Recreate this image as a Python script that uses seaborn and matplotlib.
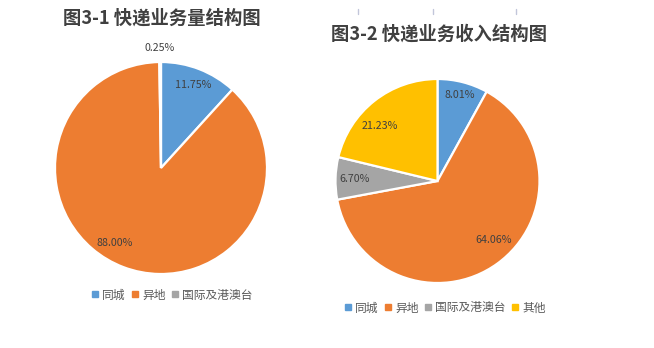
import numpy as np
import matplotlib
matplotlib.use("Agg")
import matplotlib.pyplot as plt
from matplotlib.lines import Line2D
import seaborn as sns

# 快递业务量结构（%）
volume_labels = ["同城", "异地", "国际及港澳台"]
volume_share = [11.75, 88.00, 0.25]

# 快递业务收入结构（%）
income_labels = ["同城", "异地", "国际及港澳台", "其他"]
income_share = [8.01, 64.06, 6.70, 21.23]

titles = ["图3-1 快递业务量结构图", "图3-2 快递业务收入结构图"]

sns.set_theme(style="white")
palette = sns.color_palette(["#5B9BD5", "#ED7D31", "#A5A5A5", "#FFC000"])
plt.rcParams["font.family"] = ["Noto Sans CJK SC", "DejaVu Sans"]

W, H = 654, 348
fig = plt.figure(figsize=(W / 100, H / 100), dpi=100)
fig.patch.set_facecolor("white")


def px_axes(cx, cy, r):
    """Square axes in pixel terms, centred at (cx, cy) from the top-left."""
    return fig.add_axes([(cx - r) / W, (H - cy - r) / H, 2 * r / W, 2 * r / H])


def draw_pie(ax, values, label_place):
    wedges, _ = ax.pie(
        values,
        colors=palette[:len(values)],
        startangle=90,
        counterclock=False,
        radius=1.0,
        wedgeprops=dict(edgecolor="white", linewidth=1.6),
    )
    for w, v, (dist, dang) in zip(wedges, values, label_place):
        mid = np.deg2rad((w.theta1 + w.theta2) / 2 + dang)
        ax.text(dist * np.cos(mid), dist * np.sin(mid), f"{v:.2f}%",
                ha="center", va="center", fontsize=7.7, color="#404040")
    ax.set_xlim(-1, 1)
    ax.set_ylim(-1, 1)
    ax.set_aspect("equal")
    ax.axis("off")


# Left chart
ax1 = px_axes(161, 168, 106)
draw_pie(ax1, volume_share, [(0.84, 0), (0.83, -11), (1.13, 0)])

# Right chart
ax2 = px_axes(437.5, 181, 102)
draw_pie(ax2, income_share, [(0.87, 0), (0.80, 8), (0.81, 0), (0.78, 8)])

title_kw = dict(ha="center", va="center", fontsize=13.2, fontweight="bold",
                color="#404040")
fig.text(161.5 / W, 1 - 18 / H, titles[0], **title_kw)
fig.text(439.5 / W, 1 - 34 / H, titles[1], **title_kw)


def legend(labels, cx, cy):
    handles = [Line2D([], [], marker="s", linestyle="none", markersize=5,
                      markerfacecolor=palette[i], markeredgecolor=palette[i])
               for i in range(len(labels))]
    fig.legend(handles, labels, loc="center", ncol=len(labels),
               bbox_to_anchor=(cx / W, 1 - cy / H), frameon=False,
               fontsize=8.5, labelcolor="#595959", handlelength=0.6,
               handletextpad=0.35, columnspacing=0.45, borderpad=0)


legend(volume_labels, 172, 295)
legend(income_labels, 445, 308)

# small marks along the top edge
for x in (358, 433, 516):
    fig.add_artist(Line2D([x / W, x / W], [1 - 9 / H, 1 - 13.5 / H],
                          color="#C2C6DA", linewidth=1.0))

fig.savefig("out.png", dpi=100, facecolor="white")
